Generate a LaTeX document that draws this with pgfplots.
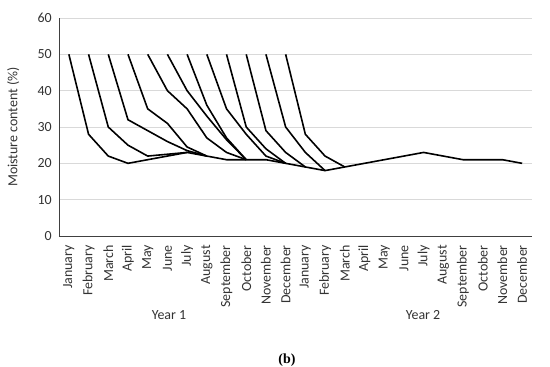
\documentclass[border=0pt]{standalone}
\usepackage{pgfplots}
\pgfplotsset{compat=1.18}
\usepackage{fontspec}
\setmainfont{Carlito}
\newfontfamily\capfont{Liberation Serif}
\definecolor{gridgray}{HTML}{D9D9D9}
\definecolor{axisgray}{HTML}{404040}
\begin{document}
\begin{tikzpicture}
\path[use as bounding box] (-59bp,-131bp) rectangle (491bp,236bp);
\begin{axis}[
  anchor=south west, at={(0,0)},
  width=473bp, height=218bp, scale only axis,
  xmin=-0.5, xmax=23.5, ymin=0, ymax=60,
  axis x line*=bottom, axis y line*=left,
  axis line style={-, axisgray, line width=0.9bp},
  ymajorgrids, grid style={gridgray, line width=0.9bp},
  major tick length=0pt,
  ytick={0,10,...,60},
  xtick={0,...,23},
  xticklabels={January,February,March,April,May,June,July,August,September,October,November,December,January,February,March,April,May,June,July,August,September,October,November,December},
  /pgf/number format/assume math mode=true,
  tick label style={font=\fontsize{14}{16}\selectfont, text=black!80},
  xticklabel style={rotate=90, anchor=east, inner sep=1bp, xshift=-8bp},
  yticklabel style={inner sep=1bp, xshift=-6bp},
  ylabel={Moisture content (\%)},
  ylabel style={at={(axis description cs:-0.097,0.5)}, anchor=center, font=\fontsize{14}{16}\selectfont, text=black!80},
  cycle list={black\\},
  every axis plot/.append style={line width=1.6bp, line join=round},
  no markers,
]
\addplot coordinates {(0,50)(1,28)(2,22)(3,20)(4,21)(5,22)(6,23)(7,22)(8,21)(9,21)(10,21)(11,20)(12,19)(13,18)(14,19)(15,20)(16,21)(17,22)(18,23)(19,22)(20,21)(21,21)(22,21)(23,20)};
\addplot coordinates {(1,50)(2,30)(3,25)(4,22)(5,22.5)(6,23)};
\addplot coordinates {(2,50)(3,32)(4,29)(5,26)(6,23.5)(7,22)};
\addplot coordinates {(3,50)(4,35)(5,31)(6,24.5)(7,22)};
\addplot coordinates {(4,50)(5,40)(6,35)(7,27)(8,23)(9,21)};
\addplot coordinates {(5,50)(6,40)(7,33)(8,26.5)(9,21)};
\addplot coordinates {(6,50)(7,36)(8,27)(9,21)};
\addplot coordinates {(7,50)(8,35)(9,28)(10,22)(11,20)};
\addplot coordinates {(8,50)(9,30)(10,24)(11,20)};
\addplot coordinates {(9,50)(10,29)(11,23)(12,19)};
\addplot coordinates {(10,50)(11,30)(12,23)(13,18)};
\addplot coordinates {(11,50)(12,28)(13,22)(14,19)};
\end{axis}
\node[font=\fontsize{14}{16}\selectfont, text=black!80] at (110bp,-79bp) {Year 1};
\node[font=\fontsize{14}{16}\selectfont, text=black!80] at (364bp,-79bp) {Year 2};
\node[font=\capfont\bfseries\fontsize{14}{16}\selectfont] at (228bp,-124bp) {(b)};
\end{tikzpicture}
\end{document}
